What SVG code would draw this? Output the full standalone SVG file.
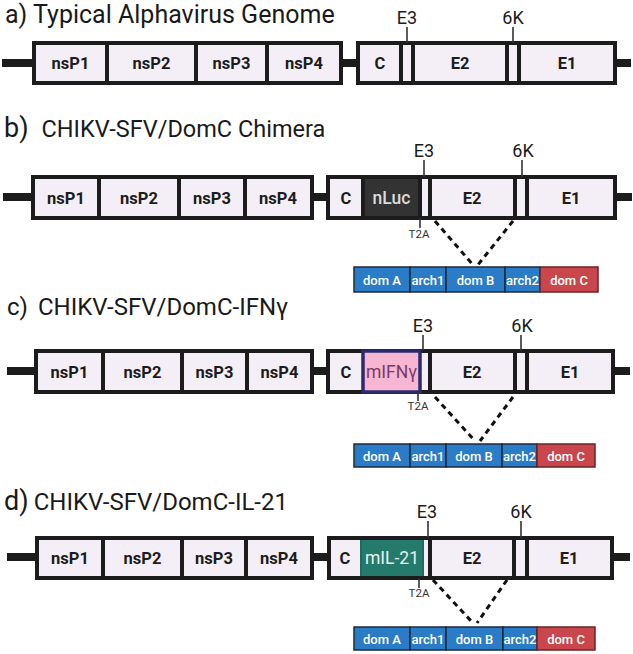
<svg xmlns="http://www.w3.org/2000/svg" width="633" height="654" viewBox="0 0 633 654">
<style>
.bg{fill:#ffffff}
.title{font-family:Roboto,"Liberation Sans",sans-serif;font-size:24px;fill:#1a1a1a}
.tl{font-family:Roboto,"Liberation Sans",sans-serif;font-size:27px;fill:#1a1a1a}
.seg{fill:#f4eff6;stroke:#1c1c1c;stroke-width:4}
.div{stroke:#1c1c1c;stroke-width:4}
.rna{fill:#1c1c1c}
.lbl{font-family:Roboto,"Liberation Sans",sans-serif;font-size:16.5px;font-weight:700;fill:#1c1c1c;text-anchor:middle}
.mk{font-family:Roboto,"Liberation Sans",sans-serif;font-size:18px;fill:#1c1c1c;text-anchor:middle}
.tick{stroke:#333;stroke-width:1.6}
.t2a{font-family:Roboto,"Liberation Sans",sans-serif;font-size:11.5px;fill:#333;text-anchor:middle}
.dash{stroke:#111;stroke-width:3;stroke-dasharray:5.5 4.5;fill:none}
.dA{fill:#2b7cc6;stroke:#1d2a3c;stroke-width:1.5}
.dC{fill:#c9474c;stroke:#6a2326;stroke-width:1.5}
.dt{font-family:Roboto,"Liberation Sans",sans-serif;font-size:13px;font-weight:500;fill:#ffffff;text-anchor:middle}
.ins{font-family:Roboto,"Liberation Sans",sans-serif;font-size:17.5px;text-anchor:middle}
</style>
<rect class="bg" x="0" y="0" width="633" height="654"/>

<!-- Panel a -->
<g id="panel-a">
  <text class="title" x="5" y="23" style="font-size:25px">a) Typical Alphavirus Genome</text>
  <g id="a-nonstructural">
    <rect class="rna" x="2" y="59" width="34" height="8"/>
    <rect class="seg" x="34" y="43" width="307" height="40"/>
    <line class="div" x1="107" y1="43" x2="107" y2="83"/>
    <line class="div" x1="196" y1="43" x2="196" y2="83"/>
    <line class="div" x1="267" y1="43" x2="267" y2="83"/>
    <text class="lbl" x="70.5" y="69">nsP1</text>
    <text class="lbl" x="151.5" y="69">nsP2</text>
    <text class="lbl" x="231.5" y="69">nsP3</text>
    <text class="lbl" x="304" y="69">nsP4</text>
  </g>
  <g id="a-structural">
    <rect class="rna" x="341" y="59" width="17" height="8"/>
    <rect class="seg" x="358" y="43" width="257" height="40"/>
    <line class="div" x1="401" y1="43" x2="401" y2="83"/>
    <line class="div" x1="413" y1="43" x2="413" y2="83"/>
    <line class="div" x1="507" y1="43" x2="507" y2="83"/>
    <line class="div" x1="519" y1="43" x2="519" y2="83"/>
    <rect class="rna" x="615" y="59" width="16" height="8"/>
    <text class="lbl" x="380" y="69">C</text>
    <text class="lbl" x="460" y="69">E2</text>
    <text class="lbl" x="567" y="69">E1</text>
    <text class="mk" x="407" y="24">E3</text>
    <line class="tick" x1="407" y1="27" x2="407" y2="43"/>
    <text class="mk" x="513" y="24">6K</text>
    <line class="tick" x1="513" y1="27" x2="513" y2="43"/>
  </g>
</g>

<!-- Panel b -->
<g id="panel-b">
  <text x="4" y="137"><tspan class="tl">b)</tspan><tspan class="title" dx="13" style="font-size:23.5px">CHIKV-SFV/DomC Chimera</tspan></text>
  <g id="b-nonstructural">
    <rect class="rna" x="3" y="193" width="32" height="8"/>
    <rect class="seg" x="33" y="177" width="279" height="41"/>
    <line class="div" x1="99" y1="177" x2="99" y2="218"/>
    <line class="div" x1="179" y1="177" x2="179" y2="218"/>
    <line class="div" x1="245" y1="177" x2="245" y2="218"/>
    <text class="lbl" x="66" y="204">nsP1</text>
    <text class="lbl" x="139" y="204">nsP2</text>
    <text class="lbl" x="212" y="204">nsP3</text>
    <text class="lbl" x="278" y="204">nsP4</text>
  </g>
  <g id="b-structural">
    <rect class="rna" x="312" y="193" width="16" height="8"/>
    <rect class="seg" x="328" y="177" width="287" height="41"/>
    <rect x="363" y="177" width="57" height="41" fill="#333333" stroke="#1c1c1c" stroke-width="4"/>
    <line class="div" x1="430" y1="177" x2="430" y2="218"/>
    <line class="div" x1="515" y1="177" x2="515" y2="218"/>
    <line class="div" x1="527" y1="177" x2="527" y2="218"/>
    <rect class="rna" x="615" y="193" width="17" height="8"/>
    <text class="lbl" x="346" y="204">C</text>
    <text class="ins" x="391.5" y="204" style="font-weight:500;fill:#dcdcdc">nLuc</text>
    <text class="lbl" x="472" y="204">E2</text>
    <text class="lbl" x="571" y="204">E1</text>
    <text class="mk" x="424" y="157">E3</text>
    <line class="tick" x1="424" y1="160" x2="424" y2="177"/>
    <text class="mk" x="523" y="157">6K</text>
    <line class="tick" x1="522" y1="160" x2="522" y2="177"/>
    <line class="tick" x1="420" y1="218" x2="420" y2="228"/>
    <text class="t2a" x="419" y="238">T2A</text>
  </g>
  <g id="b-connectors">
    <line class="dash" x1="435" y1="221" x2="474" y2="266"/>
    <line class="dash" x1="513" y1="221" x2="477" y2="266"/>
  </g>
  <g id="b-domains">
    <rect class="dA" x="354" y="267" width="56" height="25"/>
    <rect class="dA" x="410" y="267" width="36" height="25"/>
    <rect class="dA" x="446" y="267" width="59" height="25"/>
    <rect class="dA" x="505" y="267" width="35" height="25"/>
    <rect class="dC" x="540" y="267" width="58" height="25"/>
    <text class="dt" x="382" y="284.5">dom A</text>
    <text class="dt" x="428" y="284.5">arch1</text>
    <text class="dt" x="475.5" y="284.5">dom B</text>
    <text class="dt" x="522.5" y="284.5">arch2</text>
    <text class="dt" x="569" y="284.5">dom C</text>
  </g>
</g>

<!-- Panel c -->
<g id="panel-c">
  <text x="7" y="315"><tspan class="title">c)</tspan><tspan class="title" dx="10">CHIKV-SFV/DomC-IFNγ</tspan></text>
  <g id="c-nonstructural">
    <rect class="rna" x="7" y="367" width="31" height="8"/>
    <rect class="seg" x="36" y="351" width="276" height="41"/>
    <line class="div" x1="103" y1="351" x2="103" y2="392"/>
    <line class="div" x1="182" y1="351" x2="182" y2="392"/>
    <line class="div" x1="247" y1="351" x2="247" y2="392"/>
    <text class="lbl" x="69.5" y="378">nsP1</text>
    <text class="lbl" x="142.5" y="378">nsP2</text>
    <text class="lbl" x="214.5" y="378">nsP3</text>
    <text class="lbl" x="279.5" y="378">nsP4</text>
  </g>
  <g id="c-structural">
    <rect class="rna" x="312" y="367" width="16" height="8"/>
    <rect class="seg" x="328" y="351" width="285" height="41"/>
    <rect x="363" y="351" width="57" height="41" fill="#f7b6d2" stroke="#2c2a6e" stroke-width="3.5"/>
    <line class="div" x1="430" y1="351" x2="430" y2="392"/>
    <line class="div" x1="515" y1="351" x2="515" y2="392"/>
    <line class="div" x1="527" y1="351" x2="527" y2="392"/>
    <rect class="rna" x="613" y="367" width="17" height="8"/>
    <text class="lbl" x="346" y="378">C</text>
    <text class="ins" x="391.5" y="378" style="fill:#7a3a66">mIFNγ</text>
    <text class="lbl" x="472" y="378">E2</text>
    <text class="lbl" x="570" y="378">E1</text>
    <text class="mk" x="423" y="332">E3</text>
    <line class="tick" x1="423" y1="335" x2="423" y2="351"/>
    <text class="mk" x="522" y="332">6K</text>
    <line class="tick" x1="521" y1="335" x2="521" y2="351"/>
    <line class="tick" x1="418" y1="392" x2="418" y2="401"/>
    <text class="t2a" x="418" y="410">T2A</text>
  </g>
  <g id="c-connectors">
    <line class="dash" x1="435" y1="397" x2="475" y2="441"/>
    <line class="dash" x1="513" y1="397" x2="480" y2="441"/>
  </g>
  <g id="c-domains">
    <rect class="dA" x="354" y="444" width="56" height="23"/>
    <rect class="dA" x="410" y="444" width="36" height="23"/>
    <rect class="dA" x="446" y="444" width="56" height="23"/>
    <rect class="dA" x="502" y="444" width="35" height="23"/>
    <rect class="dC" x="537" y="444" width="58" height="23"/>
    <text class="dt" x="382" y="460.5">dom A</text>
    <text class="dt" x="428" y="460.5">arch1</text>
    <text class="dt" x="474" y="460.5">dom B</text>
    <text class="dt" x="519.5" y="460.5">arch2</text>
    <text class="dt" x="566" y="460.5">dom C</text>
  </g>
</g>

<!-- Panel d -->
<g id="panel-d">
  <text x="4" y="510"><tspan class="tl">d)</tspan><tspan class="title" dx="5">CHIKV-SFV/DomC-IL-21</tspan></text>
  <g id="d-nonstructural">
    <rect class="rna" x="7" y="553" width="32" height="8"/>
    <rect class="seg" x="37" y="538" width="275" height="40"/>
    <line class="div" x1="103" y1="538" x2="103" y2="578"/>
    <line class="div" x1="182" y1="538" x2="182" y2="578"/>
    <line class="div" x1="246" y1="538" x2="246" y2="578"/>
    <text class="lbl" x="70" y="564">nsP1</text>
    <text class="lbl" x="142.5" y="564">nsP2</text>
    <text class="lbl" x="214" y="564">nsP3</text>
    <text class="lbl" x="279" y="564">nsP4</text>
  </g>
  <g id="d-structural">
    <rect class="rna" x="312" y="553" width="17" height="8"/>
    <rect class="seg" x="329" y="538" width="283" height="40"/>
    <rect x="361" y="538" width="62" height="40" fill="#247b6c" stroke="#1f6a5d" stroke-width="2"/>
    <line class="div" x1="430" y1="538" x2="430" y2="578"/>
    <line class="div" x1="514" y1="538" x2="514" y2="578"/>
    <line class="div" x1="527" y1="538" x2="527" y2="578"/>
    <line class="div" x1="329" y1="538" x2="612" y2="538"/>
    <line class="div" x1="329" y1="578" x2="612" y2="578"/>
    <rect class="rna" x="612" y="553" width="18" height="8"/>
    <text class="lbl" x="345" y="564">C</text>
    <text class="ins" x="392" y="564" style="fill:#eaf3f0">mIL-21</text>
    <text class="lbl" x="472" y="564">E2</text>
    <text class="lbl" x="569" y="564">E1</text>
    <text class="mk" x="427" y="518">E3</text>
    <line class="tick" x1="428" y1="521" x2="428" y2="538"/>
    <text class="mk" x="521" y="518">6K</text>
    <line class="tick" x1="521" y1="521" x2="521" y2="538"/>
    <line class="tick" x1="419" y1="578" x2="419" y2="588"/>
    <text class="t2a" x="419" y="597">T2A</text>
  </g>
  <g id="d-connectors">
    <line class="dash" x1="433" y1="580" x2="473" y2="623"/>
    <line class="dash" x1="507" y1="580" x2="477" y2="623"/>
  </g>
  <g id="d-domains">
    <rect class="dA" x="354" y="627" width="56" height="23"/>
    <rect class="dA" x="410" y="627" width="36" height="23"/>
    <rect class="dA" x="446" y="627" width="57" height="23"/>
    <rect class="dA" x="503" y="627" width="34" height="23"/>
    <rect class="dC" x="537" y="627" width="58" height="23"/>
    <text class="dt" x="382" y="643.5">dom A</text>
    <text class="dt" x="428" y="643.5">arch1</text>
    <text class="dt" x="474.5" y="643.5">dom B</text>
    <text class="dt" x="520" y="643.5">arch2</text>
    <text class="dt" x="566" y="643.5">dom C</text>
  </g>
</g>
</svg>
